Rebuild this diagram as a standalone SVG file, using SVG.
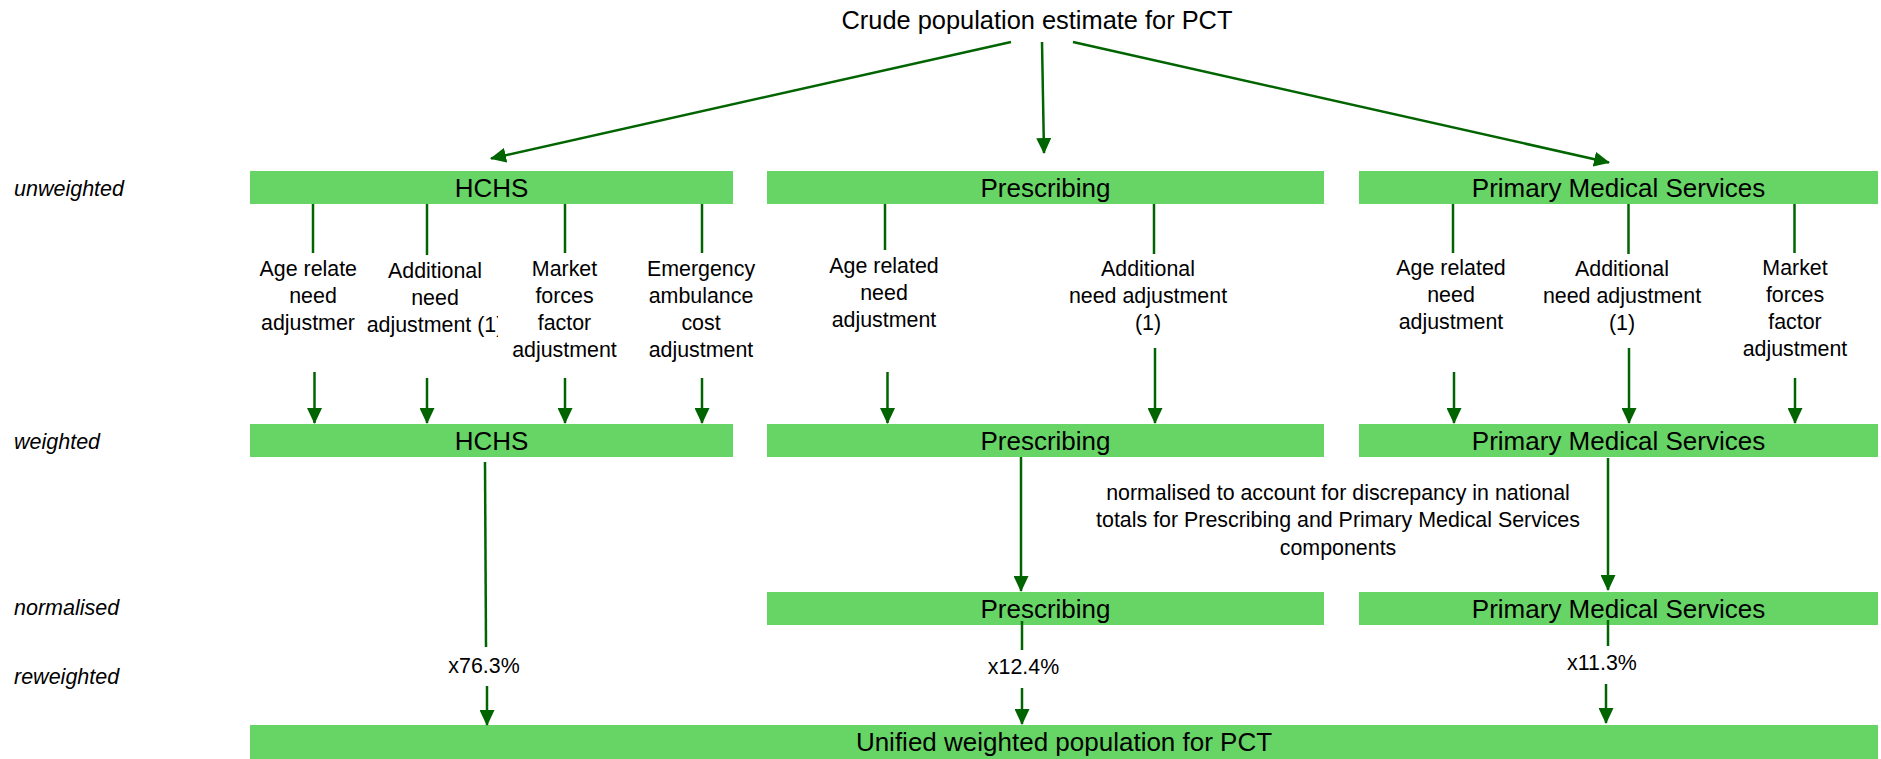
<svg xmlns="http://www.w3.org/2000/svg" width="1881" height="759" viewBox="0 0 1881 759">
<style>
.box{fill:#66d566;stroke:none}
.bl{font-family:"Liberation Sans",Arial,sans-serif;font-size:26px;fill:#000;text-anchor:middle}
.ti{font-size:25.4px}
.t{font-family:"Liberation Sans",Arial,sans-serif;font-size:21.4px;fill:#000;text-anchor:middle}
.s{text-anchor:start}
.row{font-family:"Liberation Sans",Arial,sans-serif;font-size:21.5px;font-style:italic;fill:#000}
.c{stroke:#006400;stroke-width:2.5;fill:none}
.a{marker-end:url(#ah)}
</style>
<defs>
<marker id="ah" viewBox="0 0 16 15" refX="15" refY="7.5" markerWidth="16" markerHeight="15" markerUnits="userSpaceOnUse" orient="auto">
<path d="M0,0 L16,7.5 L0,15 z" fill="#006400"/>
</marker>
<clipPath id="clip2"><rect x="360" y="250" width="138" height="100"/></clipPath>
</defs>
<rect width="1881" height="759" fill="#fff"/>

<g id="title"><text class="bl ti" x="1037" y="29">Crude population estimate for PCT</text></g>

<g id="rowlabels">
<text class="row" x="14" y="196">unweighted</text>
<text class="row" x="14" y="449">weighted</text>
<text class="row" x="14" y="615">normalised</text>
<text class="row" x="14" y="684">reweighted</text>
</g>

<g id="hchs-unweighted"><rect class="box" x="250" y="171" width="483" height="33"/><text class="bl" x="491.5" y="197">HCHS</text></g>
<g id="presc-unweighted"><rect class="box" x="767" y="171" width="557" height="33"/><text class="bl" x="1045.5" y="197">Prescribing</text></g>
<g id="pms-unweighted"><rect class="box" x="1359" y="171" width="519" height="33"/><text class="bl" x="1618.5" y="197">Primary Medical Services</text></g>

<g id="hchs-weighted"><rect class="box" x="250" y="424" width="483" height="33"/><text class="bl" x="491.5" y="450">HCHS</text></g>
<g id="presc-weighted"><rect class="box" x="767" y="424" width="557" height="33"/><text class="bl" x="1045.5" y="450">Prescribing</text></g>
<g id="pms-weighted"><rect class="box" x="1359" y="424" width="519" height="33"/><text class="bl" x="1618.5" y="450">Primary Medical Services</text></g>

<g id="presc-normalised"><rect class="box" x="767" y="592" width="557" height="33"/><text class="bl" x="1045.5" y="618">Prescribing</text></g>
<g id="pms-normalised"><rect class="box" x="1359" y="592" width="519" height="33"/><text class="bl" x="1618.5" y="618">Primary Medical Services</text></g>

<g id="unified"><rect class="box" x="250" y="725" width="1628" height="34"/><text class="bl" x="1064" y="751">Unified weighted population for PCT</text></g>

<g id="hchs-age">
<text class="t s" x="259.5" y="276">Age relate</text>
<text class="t" x="313" y="303">need</text>
<text class="t s" x="261" y="330">adjustmer</text>
</g>
<g id="hchs-additional">
<text class="t" x="435" y="278">Additional</text>
<text class="t" x="435" y="305">need</text>
<text class="t" x="435" y="332" clip-path="url(#clip2)">adjustment (1)</text>
</g>
<g id="hchs-market">
<text class="t" x="564.5" y="276">Market</text>
<text class="t" x="564.5" y="303">forces</text>
<text class="t" x="564.5" y="330">factor</text>
<text class="t" x="564.5" y="357">adjustment</text>
</g>
<g id="hchs-emergency">
<text class="t" x="701" y="276">Emergency</text>
<text class="t" x="701" y="303">ambulance</text>
<text class="t" x="701" y="330">cost</text>
<text class="t" x="701" y="357">adjustment</text>
</g>
<g id="presc-age">
<text class="t" x="884" y="273">Age related</text>
<text class="t" x="884" y="300">need</text>
<text class="t" x="884" y="327">adjustment</text>
</g>
<g id="presc-additional">
<text class="t" x="1148" y="276">Additional</text>
<text class="t" x="1148" y="303">need adjustment</text>
<text class="t" x="1148" y="330">(1)</text>
</g>
<g id="pms-age">
<text class="t" x="1451" y="275">Age related</text>
<text class="t" x="1451" y="302">need</text>
<text class="t" x="1451" y="329">adjustment</text>
</g>
<g id="pms-additional">
<text class="t" x="1622" y="276">Additional</text>
<text class="t" x="1622" y="303">need adjustment</text>
<text class="t" x="1622" y="330">(1)</text>
</g>
<g id="pms-market">
<text class="t" x="1795" y="275">Market</text>
<text class="t" x="1795" y="302">forces</text>
<text class="t" x="1795" y="329">factor</text>
<text class="t" x="1795" y="356">adjustment</text>
</g>

<g id="note">
<text class="t" x="1338" y="500">normalised to account for discrepancy in national</text>
<text class="t" x="1338" y="527">totals for Prescribing and Primary Medical Services</text>
<text class="t" x="1338" y="555">components</text>
</g>

<g id="factors">
<text class="t" x="484" y="673">x76.3%</text>
<text class="t" x="1023.5" y="674">x12.4%</text>
<text class="t" x="1602" y="670">x11.3%</text>
</g>

<g id="connectors">
<line class="c a" x1="1011" y1="42" x2="491" y2="158.5"/>
<line class="c a" x1="1042" y1="42" x2="1044" y2="153"/>
<line class="c a" x1="1073" y1="42" x2="1609" y2="162.5"/>

<line class="c" x1="313" y1="204" x2="313" y2="253"/>
<line class="c" x1="427" y1="204" x2="427" y2="255"/>
<line class="c" x1="565" y1="204" x2="565" y2="253"/>
<line class="c" x1="702" y1="204" x2="702" y2="253"/>
<line class="c a" x1="314.5" y1="372" x2="314.5" y2="423"/>
<line class="c a" x1="427" y1="378" x2="427" y2="423"/>
<line class="c a" x1="565" y1="378" x2="565" y2="423"/>
<line class="c a" x1="702" y1="378" x2="702" y2="423"/>

<line class="c" x1="885" y1="204" x2="885" y2="250"/>
<line class="c" x1="1154" y1="204" x2="1154" y2="254"/>
<line class="c a" x1="887.5" y1="372" x2="887.5" y2="423"/>
<line class="c a" x1="1155" y1="348" x2="1155" y2="423"/>

<line class="c" x1="1453" y1="204" x2="1453" y2="253"/>
<line class="c" x1="1628.5" y1="204" x2="1628.5" y2="254"/>
<line class="c" x1="1794.5" y1="204" x2="1794.5" y2="253"/>
<line class="c a" x1="1454" y1="372" x2="1454" y2="423"/>
<line class="c a" x1="1629" y1="348" x2="1629" y2="423"/>
<line class="c a" x1="1795" y1="378" x2="1795" y2="423"/>

<line class="c" x1="485" y1="462" x2="486" y2="647"/>
<line class="c a" x1="487" y1="686" x2="487" y2="725"/>
<line class="c a" x1="1021" y1="457" x2="1021" y2="591"/>
<line class="c" x1="1022" y1="621" x2="1022" y2="650"/>
<line class="c a" x1="1022" y1="688" x2="1022" y2="724"/>
<line class="c a" x1="1608" y1="458" x2="1608" y2="590"/>
<line class="c" x1="1608" y1="620" x2="1608" y2="646"/>
<line class="c a" x1="1606" y1="684" x2="1606" y2="723"/>
</g>
</svg>
